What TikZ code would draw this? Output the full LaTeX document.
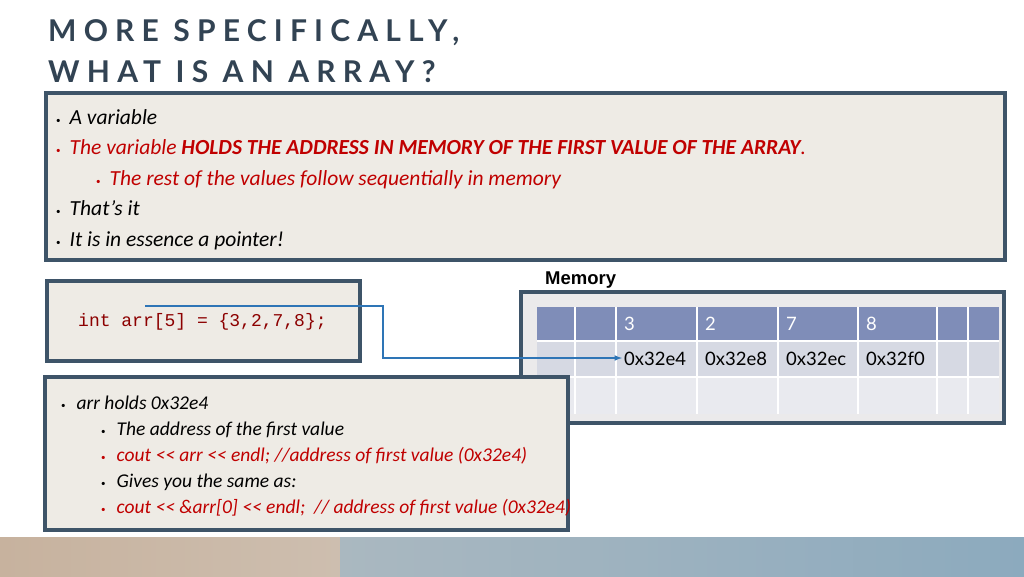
\documentclass[tikz,border=0pt]{standalone}
\usepackage{fontspec}
\setmainfont{Carlito}
\newfontfamily\titlefont[LetterSpace=24]{Lato}
\newfontfamily\memfont{Liberation Sans}
\newfontfamily\codefont{Liberation Mono}
\newfontfamily\tabfont{Lato}
\newcommand{\bul}{{\upshape\small\raisebox{1pt}{•}}}
\newcommand{\dlt}{<\kern0pt<}
\begin{document}
\begin{tikzpicture}[x=1pt,y=-1pt,
  panel/.style={draw=bord,line width=4pt,fill=paper},
  txt/.style={anchor=base west,inner sep=0pt,font=\fontsize{21.5}{24}\itshape},
  btxt/.style={anchor=base west,inner sep=0pt,font=\fontsize{19.5}{22}\itshape},
  cell/.style={anchor=base west,inner sep=0pt,font=\tabfont\fontsize{18.5}{20}\selectfont}]
\definecolor{bord}{HTML}{3E5468}
\definecolor{paper}{HTML}{EEEBE5}
\definecolor{redt}{HTML}{C00000}
\definecolor{hdr}{HTML}{7F8DB8}
\definecolor{r2}{HTML}{D6D9E3}
\definecolor{r3}{HTML}{E9EAEF}
\definecolor{arrowc}{HTML}{2E75B6}
\useasboundingbox (0,0) rectangle (1024,576);
\fill[white] (0,0) rectangle (1024,576);
% bottom strip
\shade[left color={rgb,255:red,199;green,178;blue,158},right color={rgb,255:red,205;green,190;blue,175}] (0,537) rectangle (340,576);
\shade[left color={rgb,255:red,170;green,184;blue,192},right color={rgb,255:red,140;green,170;blue,190}] (340,537) rectangle (1024,576);
% title
\node[anchor=base west,inner sep=0pt,font=\titlefont\fontsize{30}{34}\bfseries,text=bord!80!black] (t1) at (48,41) {MORE SPECIFICALLY,};
\node[anchor=base west,inner sep=0pt,font=\titlefont\fontsize{30}{34}\bfseries,text=bord!80!black] (t2) at (48,82) {WHAT IS AN ARRAY?};
% top panel
\draw[panel] (46,93) rectangle (1005,260);
\node[txt] (a1) at (56,124) {\bul\hspace{9pt}A variable};
\node[txt,text=redt] (a2) at (56,154) {\bul\hspace{9pt}The variable \textbf{HOLDS THE ADDRESS IN MEMORY OF THE FIRST VALUE OF THE ARRAY}.};
\node[txt,text=redt] (a3) at (96,185) {\bul\hspace{9pt}The rest of the values follow sequentially in memory};
\node[txt] (a4) at (56,215) {\bul\hspace{9pt}That’s it};
\node[txt] (a5) at (56,246) {\bul\hspace{9pt}It is in essence a pointer!};
% memory label
\node[anchor=base west,inner sep=0pt,font=\memfont\fontsize{18.5}{20}\bfseries] (mem) at (545,284) {Memory};
% memory panel
\draw[panel,fill=r3!60!paper] (521,292) rectangle (1004,423);
\fill[hdr] (537,307) rectangle (999,341);
\fill[r2] (537,341) rectangle (999,377);
\fill[r3] (537,377) rectangle (999,414);
\foreach \x in {575,616,697,778,858,937,968} \draw[white,line width=1.2pt] (\x,307) -- (\x,414);
\draw[white,line width=1.5pt] (537,341) -- (999,341);
\draw[white,line width=1.2pt] (537,377) -- (999,377);
\node[cell,text=white] (v1) at (624,330) {3};
\node[cell,text=white] (v2) at (705,330) {2};
\node[cell,text=white] (v3) at (786,330) {7};
\node[cell,text=white] (v4) at (866,330) {8};
\node[cell] (ad1) at (624,365) {0x32e4};
\node[cell] (ad2) at (705,365) {0x32e8};
\node[cell] (ad3) at (786,365) {0x32ec};
\node[cell] (ad4) at (866,365) {0x32f0};
% code panel
\draw[panel] (47,281) rectangle (360,361);
\node[anchor=base west,inner sep=0pt,font=\codefont\fontsize{18}{20}\selectfont,text=red!55!black] (code) at (78,326) {int arr[5] = \{3,2,7,8\};};
\coordinate (start) at (145,306);
\draw[arrowc,line width=1.5pt,-latex] (start) -- (383,306) -- (383,358) -- ([xshift=-2pt]ad1.west |- 0,358);
% bottom panel
\draw[panel] (45,377) rectangle (568,530);
\node[btxt] (b1) at (61,409) {\bul\hspace{11pt}arr holds 0x32e4};
\node[btxt] (b2) at (101,435) {\bul\hspace{11pt}The address of the first value};
\node[btxt,text=redt] (b3) at (101,461) {\bul\hspace{11pt}cout \dlt{} arr \dlt{} endl; //address of first value (0x32e4)};
\node[btxt] (b4) at (101,487) {\bul\hspace{11pt}Gives you the same as:};
\node[btxt,text=redt] (b5) at (101,513) {\bul\hspace{11pt}cout \dlt{} \&arr[0] \dlt{} endl;\ \ // address of first value (0x32e4)};
\end{tikzpicture}
\end{document}
